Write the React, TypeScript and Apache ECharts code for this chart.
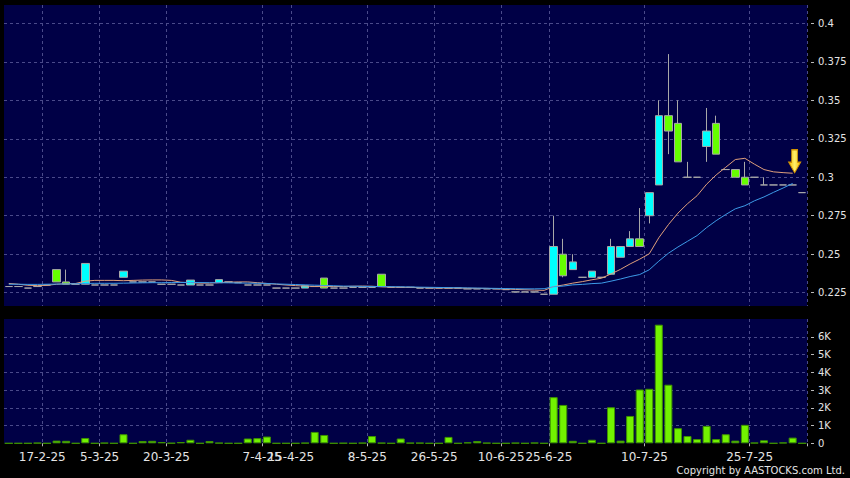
import React, { useEffect, useRef } from "react";
import * as echarts from "echarts";

const dates = [
  "11-2-25", "12-2-25", "13-2-25", "14-2-25",
  "17-2-25", "18-2-25", "20-2-25", "24-2-25", "26-2-25", "3-3-25",
  "5-3-25", "6-3-25", "10-3-25", "12-3-25", "13-3-25", "17-3-25", "18-3-25",
  "20-3-25", "21-3-25", "24-3-25", "25-3-25", "26-3-25", "27-3-25", "28-3-25", "31-3-25", "1-4-25", "3-4-25",
  "7-4-25", "9-4-25", "11-4-25",
  "15-4-25", "16-4-25", "17-4-25", "22-4-25", "24-4-25", "28-4-25", "30-4-25", "6-5-25",
  "8-5-25", "9-5-25", "13-5-25", "15-5-25", "19-5-25", "21-5-25", "23-5-25",
  "26-5-25", "27-5-25", "29-5-25", "30-5-25", "3-6-25", "5-6-25", "6-6-25",
  "10-6-25", "13-6-25", "17-6-25", "20-6-25", "24-6-25",
  "25-6-25", "26-6-25", "27-6-25", "30-6-25", "2-7-25", "3-7-25", "4-7-25", "7-7-25", "8-7-25", "9-7-25",
  "10-7-25", "11-7-25", "14-7-25", "15-7-25", "16-7-25", "17-7-25", "18-7-25", "21-7-25", "22-7-25", "23-7-25", "24-7-25",
  "25-7-25", "28-7-25", "29-7-25", "30-7-25", "31-7-25", "1-8-25",
];

const labelIndices = [4, 10, 17, 27, 30, 38, 45, 52, 57, 67, 78];

const opens = [
  0.229, 0.229, 0.228, 0.229, 0.23, 0.24, 0.232, 0.2305, 0.2305, 0.23,
  0.23, 0.23, 0.235, 0.232, 0.232, 0.232, 0.2305, 0.2305, 0.23, 0.23,
  0.23, 0.23, 0.2315, 0.232, 0.2315, 0.23, 0.23, 0.23, 0.228, 0.228,
  0.228, 0.228, 0.229, 0.2345, 0.228, 0.228, 0.2285, 0.2285, 0.2285, 0.237,
  0.2285, 0.2285, 0.2285, 0.228, 0.228, 0.228, 0.228, 0.228, 0.2275, 0.2275,
  0.2275, 0.2275, 0.227, 0.2255, 0.2255, 0.2255, 0.224, 0.224, 0.25, 0.24,
  0.235, 0.235, 0.235, 0.237, 0.248, 0.255, 0.26, 0.275, 0.295, 0.34,
  0.335, 0.3, 0.3, 0.32, 0.335, 0.305, 0.305, 0.3, 0.3, 0.295,
  0.295, 0.295, 0.295, 0.29,
];

const closes = [
  0.229, 0.229, 0.228, 0.229, 0.23, 0.232, 0.2305, 0.2305, 0.244, 0.23,
  0.23, 0.23, 0.239, 0.232, 0.232, 0.232, 0.2305, 0.2305, 0.23, 0.2332,
  0.23, 0.23, 0.2335, 0.232, 0.2315, 0.23, 0.23, 0.23, 0.228, 0.228,
  0.228, 0.2295, 0.229, 0.228, 0.228, 0.228, 0.2285, 0.2285, 0.2285, 0.229,
  0.2285, 0.2285, 0.2285, 0.228, 0.228, 0.228, 0.228, 0.228, 0.2275, 0.2275,
  0.2275, 0.2275, 0.227, 0.2255, 0.2255, 0.2255, 0.224, 0.255, 0.236, 0.245,
  0.235, 0.239, 0.235, 0.255, 0.255, 0.26, 0.255, 0.29, 0.34, 0.33,
  0.31, 0.3, 0.3, 0.33, 0.315, 0.305, 0.3, 0.295, 0.3, 0.295,
  0.295, 0.295, 0.295, 0.29,
];

const lows = [
  0.229, 0.229, 0.228, 0.229, 0.23, 0.232, 0.2305, 0.2305, 0.2305, 0.23,
  0.23, 0.23, 0.235, 0.232, 0.232, 0.232, 0.2305, 0.2305, 0.23, 0.23,
  0.23, 0.23, 0.2315, 0.232, 0.2315, 0.23, 0.23, 0.23, 0.228, 0.228,
  0.228, 0.228, 0.229, 0.228, 0.228, 0.228, 0.2285, 0.2285, 0.2285, 0.229,
  0.2285, 0.2285, 0.2285, 0.228, 0.228, 0.228, 0.228, 0.228, 0.2275, 0.2275,
  0.2275, 0.2275, 0.227, 0.2255, 0.2255, 0.2255, 0.224, 0.224, 0.235, 0.24,
  0.235, 0.235, 0.235, 0.237, 0.248, 0.255, 0.255, 0.27, 0.295, 0.315,
  0.31, 0.3, 0.3, 0.31, 0.315, 0.305, 0.3, 0.295, 0.3, 0.295,
  0.295, 0.295, 0.295, 0.29,
];

const highs = [
  0.229, 0.229, 0.228, 0.229, 0.23, 0.24, 0.24, 0.2305, 0.244, 0.23,
  0.23, 0.23, 0.239, 0.232, 0.232, 0.232, 0.2305, 0.2305, 0.23, 0.2332,
  0.23, 0.23, 0.2335, 0.232, 0.2315, 0.23, 0.23, 0.23, 0.228, 0.228,
  0.228, 0.2295, 0.229, 0.2345, 0.228, 0.228, 0.2285, 0.2285, 0.2285, 0.237,
  0.2285, 0.2285, 0.2285, 0.228, 0.228, 0.228, 0.228, 0.228, 0.2275, 0.2275,
  0.2275, 0.2275, 0.227, 0.2255, 0.2255, 0.2255, 0.224, 0.275, 0.26, 0.25,
  0.235, 0.239, 0.235, 0.26, 0.255, 0.265, 0.28, 0.29, 0.35, 0.38,
  0.35, 0.31, 0.3, 0.345, 0.34, 0.305, 0.305, 0.31, 0.3, 0.3,
  0.295, 0.295, 0.295, 0.29,
];

const volumes = [
  0, 0, 0, 20, 0, 150, 140, 0, 300, 0,
  20, 0, 510, 0, 130, 140, 70, 10, 70, 200,
  0, 130, 20, 0, 0, 270, 290, 380, 0, 0,
  0, 20, 640, 470, 0, 10, 0, 20, 410, 20,
  0, 270, 20, 20, 0, 0, 360, 0, 50, 130,
  20, 0, 0, 20, 0, 30, 0, 2600, 2160, 140,
  0, 200, 0, 2030, 150, 1540, 3030, 3070, 6680, 3300,
  850, 410, 240, 980, 240, 510, 150, 1040, 30, 170,
  0, 40, 320, 0,
];

const ma10 = [
  0.231, 0.2305, 0.2298, 0.2296, 0.2298, 0.2305, 0.2308, 0.231, 0.2325, 0.233,
  0.233, 0.233, 0.2328, 0.233, 0.2332, 0.2333, 0.2333, 0.233, 0.2318, 0.2315,
  0.2312, 0.2312, 0.2316, 0.2318, 0.232, 0.232, 0.2315, 0.231, 0.2305, 0.23,
  0.2296, 0.2293, 0.2291, 0.229, 0.229, 0.229, 0.2292, 0.2293, 0.2292, 0.2288,
  0.2286, 0.2285, 0.2284, 0.2283, 0.2282, 0.2281, 0.228, 0.228, 0.2279, 0.2278,
  0.2278, 0.2276, 0.2274, 0.2271, 0.2269, 0.2267, 0.2265, 0.229, 0.23, 0.2312,
  0.2322, 0.2334, 0.2344, 0.2372, 0.2402, 0.2437, 0.2468, 0.2503, 0.2607, 0.2692,
  0.2767, 0.2828, 0.288, 0.2955, 0.3015, 0.3065, 0.3115, 0.3123, 0.3085, 0.305,
  0.3035, 0.303, 0.3026, null,
];

const ma20 = [
  0.2305, 0.2305, 0.2304, 0.2304, 0.2305, 0.2306, 0.2307, 0.2308, 0.231, 0.2311,
  0.2311, 0.2311, 0.2312, 0.2313, 0.2314, 0.2315, 0.2315, 0.2316, 0.2316, 0.2317,
  0.2316, 0.2315, 0.2315, 0.2314, 0.2313, 0.2312, 0.2311, 0.231, 0.2307, 0.2305,
  0.2303, 0.2301, 0.2299, 0.2297, 0.2295, 0.2293, 0.2292, 0.2291, 0.229, 0.229,
  0.2289, 0.2288, 0.2287, 0.2286, 0.2285, 0.2284, 0.2283, 0.2282, 0.2281, 0.228,
  0.2279, 0.2278, 0.2277, 0.2276, 0.2275, 0.2275, 0.2276, 0.2289, 0.2293, 0.2301,
  0.2304, 0.2309, 0.2312, 0.2325, 0.2339, 0.2355, 0.2368, 0.2399, 0.2455, 0.2506,
  0.2547, 0.2584, 0.2621, 0.2673, 0.2718, 0.2758, 0.2795, 0.2815, 0.2847, 0.2872,
  0.2902, 0.293, 0.296, null,
];

const priceTicks = [0.225, 0.25, 0.275, 0.3, 0.325, 0.35, 0.375, 0.4];
const volumeTickLabels = ["0", "1K", "2K", "3K", "4K", "5K", "6K"];

const PANEL = "#000046";
const GRIDLINE = "#4a4a8a";
const TEXT = "#e4e4e4";
const FONT = "DejaVu Sans";

export default function App() {
  const ref = useRef<HTMLDivElement>(null);

  useEffect(() => {
    if (!ref.current) return;
    const chart = echarts.init(ref.current, null, { renderer: "svg" });
    const labelSet = new Set(labelIndices);
    const isLabel = (i: number) => labelSet.has(i);
    const candleData = dates.map((_, i) => [opens[i], closes[i], lows[i], highs[i]]);
    const lastMaIndex = 82;

    const splitLineStyle = { color: GRIDLINE, type: [3, 3] as any, width: 1 };

    const option: any = {
      animation: false,
      backgroundColor: "#000000",
      textStyle: { fontFamily: FONT },
      grid: [
        {
          left: 4, top: 5, width: 803, height: 301,
          show: true, backgroundColor: PANEL, borderWidth: 0,
          outerBoundsMode: "none", containLabel: false,
        },
        {
          left: 4, top: 319, width: 803, height: 124.3,
          show: true, backgroundColor: PANEL, borderWidth: 0,
          outerBoundsMode: "none", containLabel: false,
        },
      ],
      xAxis: [
        {
          type: "category", gridIndex: 0, data: dates, boundaryGap: true,
          axisLine: { show: false }, axisTick: { show: false }, axisLabel: { show: false },
          splitLine: { show: true, interval: (i: number) => isLabel(i), lineStyle: splitLineStyle },
        },
        {
          type: "category", gridIndex: 1, data: dates, boundaryGap: true, offset: 3,
          axisLine: { show: false },
          axisTick: { show: true, interval: (i: number) => isLabel(i), length: 3, lineStyle: { color: "#b8b8b8" } },
          axisLabel: {
            show: true, interval: (i: number) => isLabel(i), color: TEXT, fontSize: 12,
            fontFamily: FONT, margin: 5, padding: [0, 9.56, 0, 0],
          },
          splitLine: { show: true, interval: (i: number) => isLabel(i), lineStyle: splitLineStyle },
        },
      ],
      yAxis: [
        {
          type: "value", gridIndex: 0, position: "right", offset: 4,
          min: 0.21636, max: 0.41189, scale: true,
          axisLine: { show: false },
          axisTick: { show: true, length: 3, customValues: priceTicks, lineStyle: { color: "#b8b8b8" } },
          axisLabel: { show: true, customValues: priceTicks, margin: 7, color: TEXT, fontSize: 10, fontFamily: FONT },
          splitLine: { show: true, lineStyle: splitLineStyle },
        },
        {
          type: "value", gridIndex: 1, position: "right", offset: 4,
          min: 0, max: 7000, interval: 1000,
          axisLine: { show: false },
          axisTick: { show: true, length: 3, lineStyle: { color: "#b8b8b8" } },
          axisLabel: {
            show: true, margin: 7, color: TEXT, fontSize: 10, fontFamily: FONT,
            showMaxLabel: false,
            formatter: (v: number) => volumeTickLabels[Math.round(v / 1000)] ?? "",
          },
          splitLine: { show: true, showMinLine: false, showMaxLine: false, lineStyle: splitLineStyle },
        },
      ],
      series: [
        {
          type: "candlestick", name: "Price", xAxisIndex: 0, yAxisIndex: 0,
          data: candleData, barWidth: 8,
          itemStyle: {
            color: "#00ffff", color0: "#66ff00",
            borderColor: "#a8a8a8", borderColor0: "#a8a8a8", borderColorDoji: "#a8a8a8", borderWidth: 1,
          },
        },
        {
          type: "line", name: "MA10", xAxisIndex: 0, yAxisIndex: 0, data: ma10,
          symbol: "none", smooth: false,
          lineStyle: { color: "#e0a07c", width: 1 },
          markPoint: {
            symbol: "path://M3,0 L9,0 L9,12 L12,12 L6,22 L0,12 L3,12 Z",
            symbolSize: [12, 23], symbolOffset: [2, -12],
            label: { show: false },
            itemStyle: {
              color: {
                type: "linear", x: 0, y: 0, x2: 1, y2: 0,
                colorStops: [
                  { offset: 0, color: "#f2b800" },
                  { offset: 0.5, color: "#fff06a" },
                  { offset: 1, color: "#f2b800" },
                ],
              },
              borderColor: "#d09200", borderWidth: 1,
            },
            data: [{ coord: [lastMaIndex, ma10[lastMaIndex]] }],
          },
        },
        {
          type: "line", name: "MA20", xAxisIndex: 0, yAxisIndex: 0, data: ma20,
          symbol: "none", smooth: false,
          lineStyle: { color: "#3d9be8", width: 1 },
        },
        {
          type: "bar", name: "Volume", xAxisIndex: 1, yAxisIndex: 1, data: volumes,
          barWidth: 8,
          itemStyle: { color: "#72f200", borderColor: "#3e9200", borderWidth: 1 },
        },
      ],
      graphic: [
        {
          type: "text", right: 5, top: 465,
          style: { text: "Copyright by AASTOCKS.com Ltd.", fill: TEXT, font: `10px "${FONT}"` },
        },
      ],
    };

    chart.setOption(option);
    return () => chart.dispose();
  }, []);

  return (
    <div
      ref={ref}
      style={{ position: "fixed", left: 0, top: 0, width: 850, height: 478 }}
    />
  );
}
